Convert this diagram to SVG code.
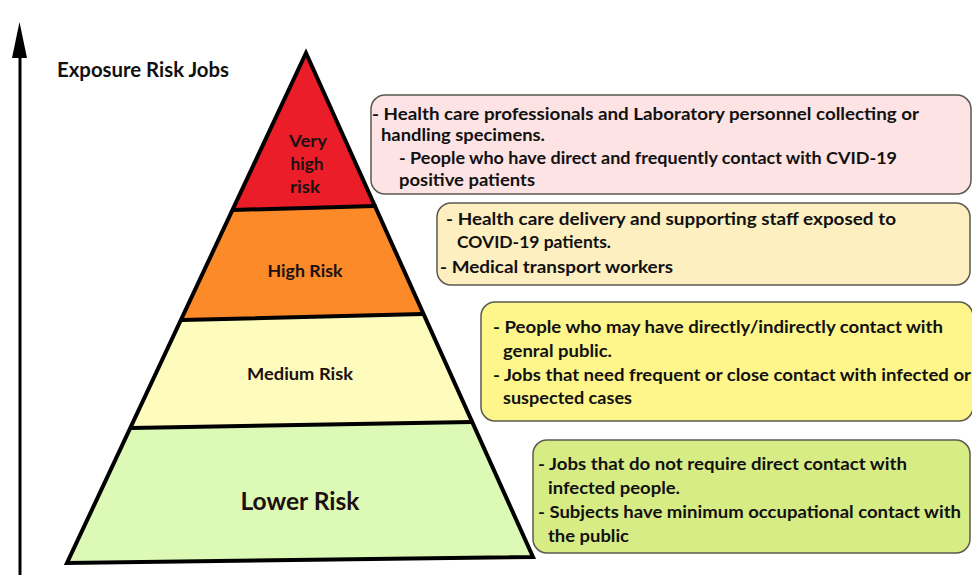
<svg xmlns="http://www.w3.org/2000/svg" width="972" height="575" viewBox="0 0 972 575">
  <style>
    .t { font-family: Lato, "Open Sans", "Liberation Sans", sans-serif; font-weight: bold; fill: #111111; }
    .box { font-size: 17.5px; }
    .tier { font-size: 17.5px; text-anchor: middle; fill: #1c1010; }
    .tier.big { font-size: 24px; }
    .card { stroke: #5a5a50; stroke-width: 1.5; }
    .edge { fill: none; stroke: #000; stroke-width: 4; stroke-linejoin: miter; stroke-linecap: round; }
  </style>

  <rect width="972" height="575" fill="#ffffff"/>

  <!-- vertical axis with arrowhead -->
  <g id="axis">
    <line x1="20" y1="575" x2="20" y2="50" stroke="#000" stroke-width="3"/>
    <polygon points="19.5,22 12,58 27,58" fill="#000"/>
  </g>

  <text id="title" class="t" x="57" y="77" font-size="20" textLength="172" lengthAdjust="spacingAndGlyphs">Exposure Risk Jobs</text>

  <!-- pyramid tiers -->
  <g id="tier-very-high">
    <polygon points="306,53 233,210 375,206" fill="#ea1d28"/>
    <text class="t tier" x="308" y="147" textLength="38" lengthAdjust="spacingAndGlyphs">Very</text>
    <text class="t tier" x="307" y="170" textLength="33" lengthAdjust="spacingAndGlyphs">high</text>
    <text class="t tier" x="305" y="193" textLength="30" lengthAdjust="spacingAndGlyphs">risk</text>
  </g>
  <g id="tier-high">
    <polygon points="233,210 375,206 423,314 182,320" fill="#fd8a28"/>
    <text class="t tier" x="305" y="277" textLength="75" lengthAdjust="spacingAndGlyphs">High Risk</text>
  </g>
  <g id="tier-medium">
    <polygon points="182,320 423,314 472,422 131,428" fill="#fefcbd"/>
    <text class="t tier" x="300" y="380" textLength="106" lengthAdjust="spacingAndGlyphs">Medium Risk</text>
  </g>
  <g id="tier-lower">
    <polygon points="131,428 472,422 533,557 67,563" fill="#dcfab5"/>
    <text class="t tier big" x="300" y="510" textLength="119" lengthAdjust="spacingAndGlyphs">Lower Risk</text>
  </g>

  <!-- pyramid outline and tier dividers -->
  <g id="connectors">
    <polygon class="edge" points="306,53 533,557 67,563"/>
    <line class="edge" x1="233" y1="210" x2="375" y2="206"/>
    <line class="edge" x1="182" y1="320" x2="423" y2="314"/>
    <line class="edge" x1="131" y1="428" x2="472" y2="422"/>
  </g>

  <!-- description cards -->
  <g id="card-very-high">
    <rect class="card" x="371" y="95" width="600" height="99" rx="14" fill="#fde3e3"/>
    <text class="t box" x="372" y="120" textLength="547" lengthAdjust="spacingAndGlyphs">- Health care professionals and Laboratory personnel collecting or</text>
    <text class="t box" x="381" y="141" textLength="164" lengthAdjust="spacingAndGlyphs">handling specimens.</text>
    <text class="t box" x="399" y="164" textLength="498" lengthAdjust="spacingAndGlyphs">- People who have direct and frequently contact with CVID-19</text>
    <text class="t box" x="399" y="186" textLength="136" lengthAdjust="spacingAndGlyphs">positive patients</text>
  </g>
  <g id="card-high">
    <rect class="card" x="437" y="203" width="533" height="82" rx="14" fill="#fdefbf"/>
    <text class="t box" x="446" y="225" textLength="450" lengthAdjust="spacingAndGlyphs">- Health care delivery and supporting staff exposed to</text>
    <text class="t box" x="457" y="248" textLength="154" lengthAdjust="spacingAndGlyphs">COVID-19 patients.</text>
    <text class="t box" x="440" y="273" textLength="233" lengthAdjust="spacingAndGlyphs">- Medical transport workers</text>
  </g>
  <g id="card-medium">
    <rect class="card" x="481" y="302" width="492" height="119" rx="14" fill="#fef68b"/>
    <text class="t box" x="493" y="333" textLength="450" lengthAdjust="spacingAndGlyphs">- People who may have directly/indirectly contact with</text>
    <text class="t box" x="503" y="357" textLength="109" lengthAdjust="spacingAndGlyphs">genral public.</text>
    <text class="t box" x="493" y="381" textLength="478" lengthAdjust="spacingAndGlyphs">- Jobs that need frequent or close contact with infected or</text>
    <text class="t box" x="503" y="404" textLength="129" lengthAdjust="spacingAndGlyphs">suspected cases</text>
  </g>
  <g id="card-lower">
    <rect class="card" x="533" y="440" width="437" height="113" rx="14" fill="#d8ec86"/>
    <text class="t box" x="538" y="470" textLength="369" lengthAdjust="spacingAndGlyphs">- Jobs that do not require direct contact with</text>
    <text class="t box" x="548" y="494" textLength="132" lengthAdjust="spacingAndGlyphs">infected people.</text>
    <text class="t box" x="538" y="518" textLength="423" lengthAdjust="spacingAndGlyphs">- Subjects have minimum occupational contact with</text>
    <text class="t box" x="548" y="542" textLength="81" lengthAdjust="spacingAndGlyphs">the public</text>
  </g>
</svg>
